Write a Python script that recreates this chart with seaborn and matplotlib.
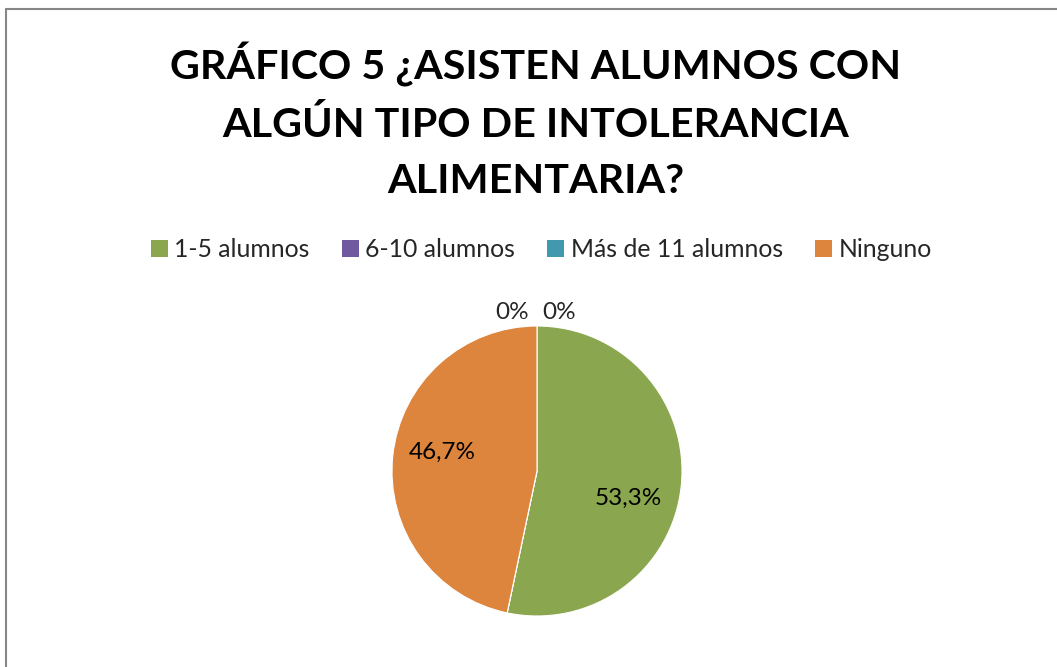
import numpy as np
import matplotlib
matplotlib.use("Agg")
import matplotlib.pyplot as plt
import seaborn as sns
from matplotlib.lines import Line2D
from matplotlib.patches import Patch

categories = ["1-5 alumnos", "6-10 alumnos", "Más de 11 alumnos", "Ninguno"]
values = [53.3, 0.0, 0.0, 46.7]
colors = ["#8aa64e", "#70599f", "#4198af", "#dd843d"]
title = "GRÁFICO 5 ¿ASISTEN ALUMNOS CON\nALGÚN TIPO DE INTOLERANCIA\nALIMENTARIA?"

sns.set_theme(style="white")
plt.rcParams['font.family'] = ['Lato', 'DejaVu Sans']

fig = plt.figure(figsize=(10.57, 6.67), dpi=100)

# pie axes: center ~ (537, 471), radius ~145 px
r_px = 145
cx, cy = 537, 471
ax = fig.add_axes([(cx - r_px) / 1057, (667 - cy - r_px) / 667, 2 * r_px / 1057, 2 * r_px / 667])

def fmt(p):
    return "" if p < 0.5 else f"{p:.1f}%".replace(".", ",")

wedges, texts, autotexts = ax.pie(values, colors=colors, startangle=90, counterclock=False,
                                  autopct=fmt, pctdistance=0.66, radius=1,
                                  wedgeprops=dict(linewidth=0.8, edgecolor="white"),
                                  textprops=dict(fontsize=17.5, color="black"))
# nudge labels the way Excel's best-fit places them
label_pos = {0: (0.63, -0.19), 3: (-0.655, 0.13)}
for i, (x, y) in label_pos.items():
    autotexts[i].set_position((x, y))

ax.set_xlim(-1, 1)
ax.set_ylim(-1, 1)
ax.set_aspect("equal")
ax.axis("off")

# zero-value labels outside, at the top of the pie
zero_idx = [i for i, v in enumerate(values) if v == 0]
for k, i in enumerate(zero_idx):
    xpos = -0.17 if k == 0 else 0.15
    ax.text(xpos, 1.09, "0%", ha="center", va="center", fontsize=17.5, clip_on=False)

fig.text(0.507, 1 - 121 / 667, title, ha="center", va="center", fontsize=29.7,
         fontweight="bold", linespacing=1.62, color="black")

handles = [Patch(facecolor=c, edgecolor="none") for c in colors]
fig.legend(handles, categories, loc="center", bbox_to_anchor=(0.512, 1 - 250 / 667),
           ncol=4, frameon=False, fontsize=17.8, handlelength=0.7, handleheight=0.7,
           handletextpad=0.25, columnspacing=1.3)

# outer chart border (top and left visible)
fig.add_artist(Line2D([6 / 1057, 1.0], [1 - 9 / 667, 1 - 9 / 667], color="#868686", lw=1.5))
fig.add_artist(Line2D([6 / 1057, 6 / 1057], [0, 1 - 9 / 667], color="#868686", lw=1.5))

fig.savefig("out.png", dpi=100, facecolor="white")
